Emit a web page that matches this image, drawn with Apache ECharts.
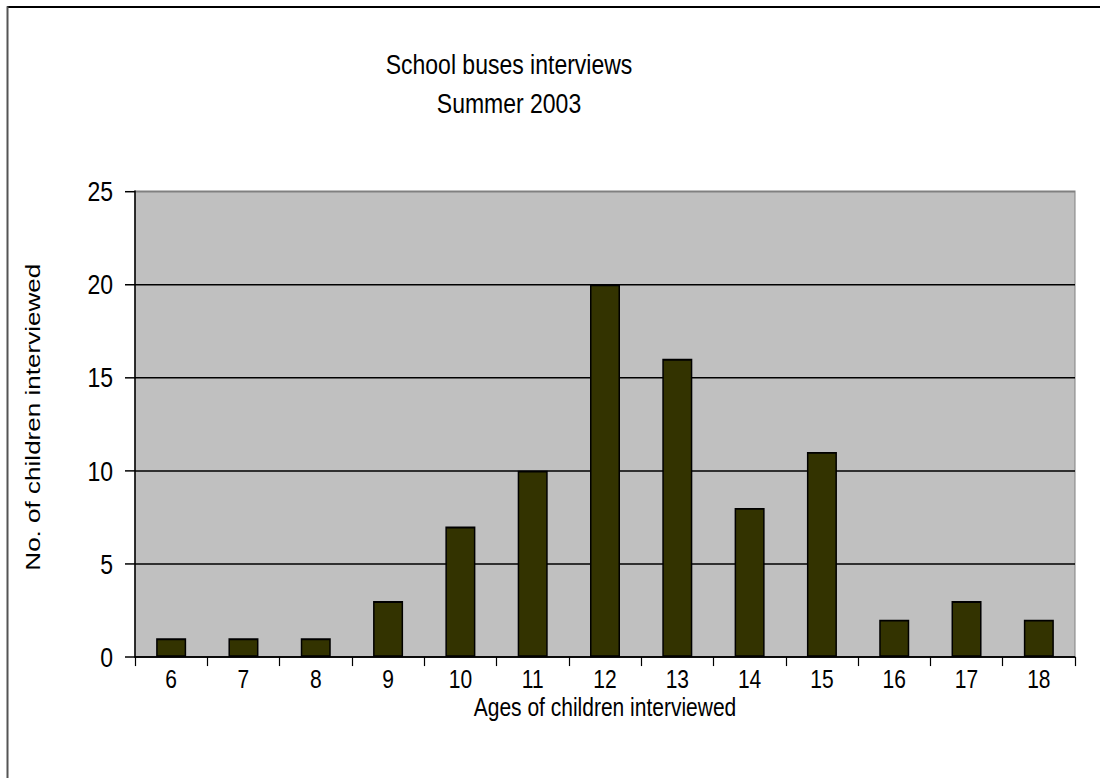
<!DOCTYPE html>
<html>
<head>
<meta charset="utf-8">
<script src="https://cdn.jsdelivr.net/npm/echarts@6/dist/echarts.min.js"></script>
<style>
html,body{margin:0;padding:0;background:#fff;overflow:hidden;}
#wrap{width:1100px;height:778px;overflow:hidden;}
#main{width:1100px;height:627px;transform:scaleY(1.2408);transform-origin:0 0;}
</style>
</head>
<body>
<div id="wrap"><div id="main"></div></div>
<script>
var titleLines = ['School buses interviews', 'Summer 2003'];
var xAxisName = 'Ages of children interviewed';
var yAxisName = 'No. of children interviewed';
var ages = ['6','7','8','9','10','11','12','13','14','15','16','17','18'];
var counts = [1,1,1,3,7,10,20,16,8,11,2,3,2];

var chart = echarts.init(document.getElementById('main'), null, {renderer: 'svg'});
var font = 'Liberation Sans, Arial, sans-serif';
chart.setOption({
  animation: false,
  backgroundColor: '#fff',
  title: {
    text: titleLines.join('\n'),
    left: 509, top: 36,
    textAlign: 'center',
    padding: 0,
    textStyle: {fontFamily: font, fontSize: 23, fontWeight: 'normal', color: '#000', lineHeight: 31.4}
  },
  graphic: [
    {type: 'line', shape: {x1: 7, y1: 5.6, x2: 1100, y2: 5.6}, style: {stroke: '#000', lineWidth: 1.6}},
    {type: 'line', shape: {x1: 7.5, y1: 5, x2: 7.5, y2: 627}, style: {stroke: '#555', lineWidth: 2}}
  ],
  grid: {
    left: 135, right: 25, top: 154, bottom: 97.5,
    show: true, backgroundColor: '#C0C0C0', borderColor: '#808080', borderWidth: 1
  },
  xAxis: {
    type: 'category',
    data: ages,
    name: xAxisName,
    nameLocation: 'middle',
    nameGap: 30,
    nameMoveOverlap: false,
    nameTextStyle: {fontFamily: font, fontSize: 21, color: '#000'},
    axisLine: {lineStyle: {color: '#000', width: 1.2}},
    axisTick: {show: true, alignWithLabel: false, length: 7.3, lineStyle: {color: '#000', width: 1.2}},
    axisLabel: {fontFamily: font, fontSize: 21, color: '#000', margin: 7}
  },
  yAxis: {
    type: 'value',
    min: 0, max: 25, interval: 5,
    name: yAxisName,
    nameLocation: 'middle',
    nameGap: 91.5,
    nameMoveOverlap: false,
    nameTextStyle: {fontFamily: font, fontSize: 21, color: '#000', padding: [0, 0, 0, 11]},
    axisLine: {show: true, lineStyle: {color: '#000', width: 1.5}},
    axisTick: {show: true, length: 10, lineStyle: {color: '#000', width: 1.2}},
    axisLabel: {fontFamily: font, fontSize: 23, color: '#000', margin: 22},
    splitLine: {show: true, lineStyle: {color: ['#000','#000','#000','#000','#000','#808080'], width: 1.2}}
  },
  series: [{
    type: 'bar',
    data: counts,
    barWidth: 30,
    itemStyle: {color: '#333300', borderColor: '#000', borderWidth: 1.5}
  }]
});
</script>
</body>
</html>
